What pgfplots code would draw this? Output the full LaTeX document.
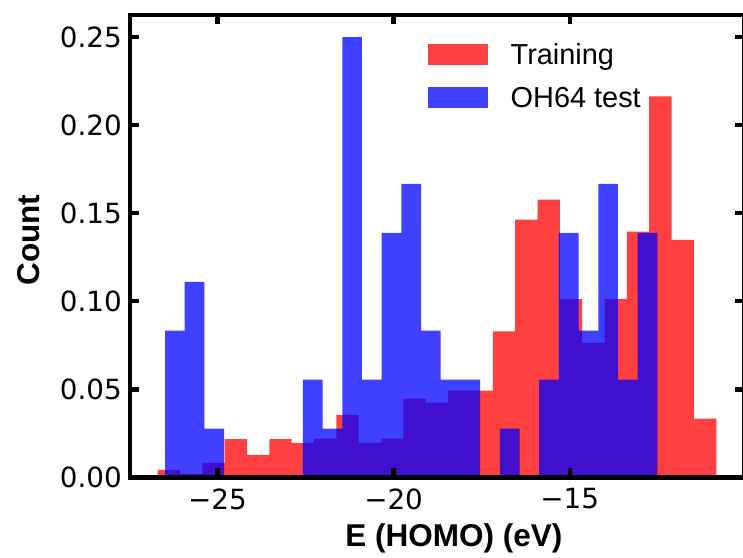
\documentclass[border=0pt]{standalone}
\usepackage{fontspec}
\setmainfont{DejaVu Sans}
\newfontfamily\lib{Liberation Sans}
\usepackage{pgfplots}
\pgfplotsset{compat=1.18}
\usepackage{pgfplotstable}
% Training histogram (density): left bin edge, height
\pgfplotstableread{
x y
-26.7000 0.0043
-26.0655 0.0020
-25.4310 0.0083
-24.7965 0.0218
-24.1620 0.0129
-23.5275 0.0218
-22.8930 0.0197
-22.2585 0.0220
-21.6240 0.0356
-20.9895 0.0197
-20.3550 0.0220
-19.7205 0.0448
-19.0860 0.0425
-18.4515 0.0493
-17.8170 0.0493
-17.1825 0.0830
-16.5480 0.1463
-15.9135 0.1577
-15.2790 0.1013
-14.6445 0.0764
-14.0100 0.1013
-13.3755 0.1395
-12.7410 0.2163
-12.1065 0.1349
-11.4720 0.0334
-10.8375 0.0334
}\train
% OH64 test histogram (density): left bin edge, height
\pgfplotstableread{
x y
-26.4900 0.0833
-25.9308 0.1111
-25.3716 0.0278
-24.8124 0.0000
-24.2532 0.0000
-23.6940 0.0000
-23.1348 0.0000
-22.5756 0.0556
-22.0164 0.0278
-21.4572 0.2500
-20.8980 0.0556
-20.3388 0.1389
-19.7796 0.1667
-19.2204 0.0833
-18.6612 0.0556
-18.1020 0.0556
-17.5428 0.0000
-16.9836 0.0278
-16.4244 0.0000
-15.8652 0.0556
-15.3060 0.1389
-14.7468 0.0833
-14.1876 0.1667
-13.6284 0.0556
-13.0692 0.1389
-12.5100 0.1389
}\test
\begin{document}
\begin{tikzpicture}
\begin{axis}[
  at={(0pt,0pt)}, anchor=south west,
  scale only axis, width=614.2pt, height=462.5pt,
  xmin=-27.49, xmax=-10.05, ymin=0, ymax=0.2625,
  axis on top,
  axis line style={line width=4.3pt, black},
  tick align=inside,
  xtick pos=both, ytick pos=both,
  major tick length=9.5pt,
  major tick style={line width=4.3pt, black},
  minor tick num=0,
  xtick={-25,-20,-15},
  xticklabels={−25,−20,−15},
  ytick={0,0.05,0.1,0.15,0.2,0.25},
  yticklabels={0.00,0.05,0.10,0.15,0.20,0.25},
  tick label style={font=\fontsize{27.8}{30}\selectfont},
  xticklabel style={inner sep=0pt, anchor=north, yshift=-11pt},
  yticklabel style={inner sep=0pt, anchor=east, xshift=-7.8pt},
  xlabel={E (HOMO) (eV)},
  ylabel={Count},
  label style={font=\lib\bfseries\fontsize{31.5}{34}\selectfont},
  xlabel style={at={(rel axis cs:0.5275,-0.14962)}, anchor=base},
  ylabel style={at={(rel axis cs:-0.14735,0.5135)}, anchor=base},
  legend cell align=left,
  legend style={at={(rel axis cs:0.4855,0.9373)}, anchor=north west,
    draw=none, fill=none, inner sep=0pt, outer sep=0pt,
    row sep=22.6pt,
    font=\lib\fontsize{28.9}{30}\selectfont,
    nodes={inner sep=0pt, outer sep=0pt, text height=20.7pt, text depth=0pt},
    /tikz/every odd column/.style={column sep=22.7pt}},
]
\addplot[ybar interval, fill=red, fill opacity=0.75, draw=none,
  legend image code/.code={\fill[red, fill opacity=0.75] (0pt,-10.35pt) rectangle (60pt,10.35pt);}]
  table[x=x, y=y] {\train};
\addlegendentry{Training}
\addplot[ybar interval, fill=blue, fill opacity=0.75, draw=none,
  legend image code/.code={\fill[blue, fill opacity=0.75] (0pt,-10.35pt) rectangle (60pt,10.35pt);}]
  table[x=x, y=y] {\test};
\addlegendentry{OH64 test}
\end{axis}
\pgfresetboundingbox
\path[use as bounding box] (-129.8pt,-79.5pt) rectangle (613.2pt,477.5pt);
\end{tikzpicture}
\end{document}
